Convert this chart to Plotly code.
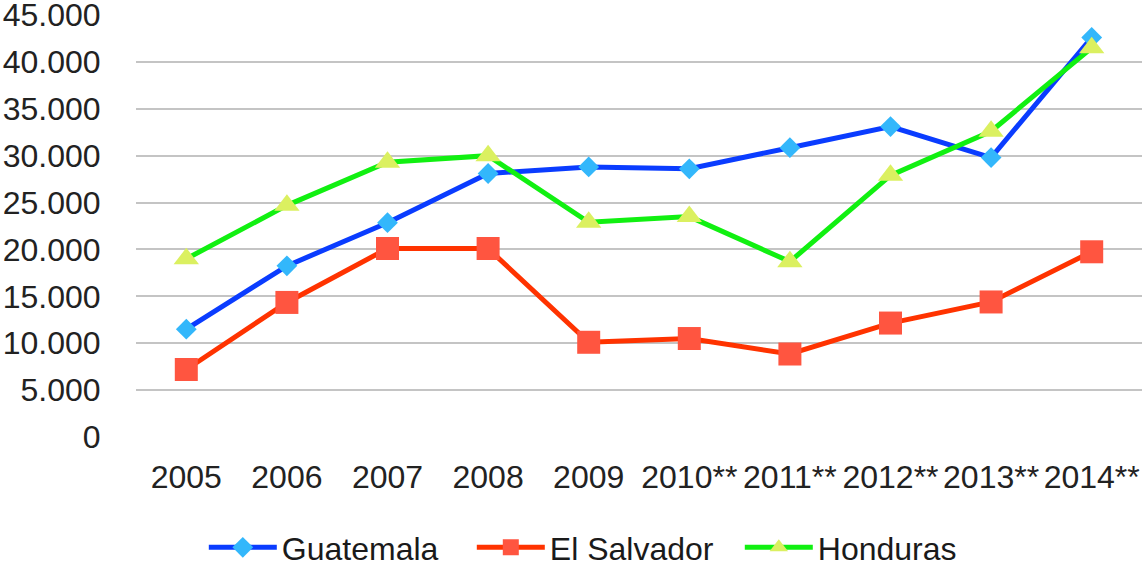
import plotly.graph_objects as go

years = ["2005", "2006", "2007", "2008", "2009", "2010**", "2011**", "2012**", "2013**", "2014**"]
guatemala = [11500, 18250, 22850, 28100, 28800, 28600, 30850, 33100, 29800, 42600]
el_salvador = [7200, 14350, 20100, 20100, 10100, 10500, 8850, 12150, 14400, 19750]
honduras = [19000, 24700, 29300, 30000, 22900, 23500, 18700, 27900, 32600, 41500]
y_ticks = [0, 5000, 10000, 15000, 20000, 25000, 30000, 35000, 40000, 45000]
y_labels = ["0", "5.000", "10.000", "15.000", "20.000", "25.000", "30.000", "35.000", "40.000", "45.000"]

FONT = "Liberation Sans, Arial, sans-serif"

fig = go.Figure()
fig.add_trace(go.Scatter(
    x=years, y=guatemala, name="Guatemala", mode="lines+markers",
    line=dict(color="#0a3cff", width=5),
    marker=dict(symbol="diamond", size=16, color="#33b7fb", line=dict(width=0)),
))
fig.add_trace(go.Scatter(
    x=years, y=el_salvador, name="El Salvador", mode="lines+markers",
    line=dict(color="#ff3300", width=5),
    marker=dict(symbol="square", size=23, color="#ff5540", line=dict(width=0)),
))
fig.add_trace(go.Scatter(
    x=years, y=honduras, name="Honduras", mode="lines+markers",
    line=dict(color="#11f011", width=5),
    marker=dict(symbol="triangle-up", size=22, color="#dbf060", line=dict(width=0)),
))

fig.update_layout(
    width=1142, height=567,
    margin=dict(l=136, r=0, t=15, b=130, autoexpand=False),
    paper_bgcolor="white", plot_bgcolor="white",
    font=dict(family=FONT, size=32, color="#222222"),
    showlegend=True,
    legend=dict(
        orientation="h", x=0.467, xanchor="center", y=-0.262, yanchor="middle",
        font=dict(family=FONT, size=32, color="#1a1a1a"),
        itemwidth=68,
        entrywidth=185, entrywidthmode="pixels",
        itemclick=False,
    ),
    xaxis=dict(
        type="category", showgrid=False, zeroline=False, showline=False,
        automargin=False, ticklabeloverflow="allow",
        ticks="outside", ticklen=0, ticklabelstandoff=12,
        tickfont=dict(family=FONT, size=32, color="#222222"),
        range=[-0.5, 9.5],
    ),
    yaxis=dict(
        range=[0, 45000], tickvals=y_ticks, ticktext=y_labels,
        automargin=False, ticklabeloverflow="allow",
        showgrid=True, gridcolor="#c4c4c4", gridwidth=1.5,
        zeroline=False, showline=False,
        ticks="outside", ticklen=0, ticklabelstandoff=28,
        tickfont=dict(family=FONT, size=32, color="#222222"),
    ),
)

fig.write_html(
    "out.html",
    config={"displayModeBar": False},
    post_script="document.body.style.margin='0';document.body.style.overflow='hidden';",
)
